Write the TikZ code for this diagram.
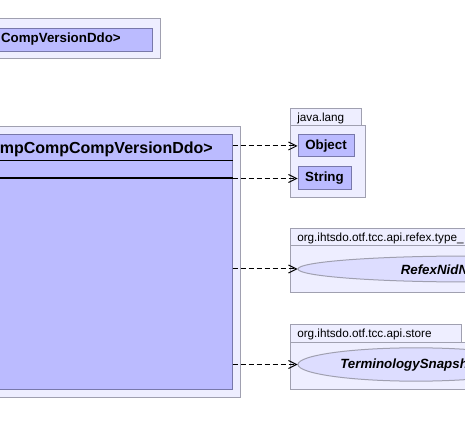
\documentclass[tikz,border=0pt]{standalone}
\usepackage{fontspec}
\setmainfont{Liberation Sans}
\usetikzlibrary{arrows.meta,fit,shapes.geometric}
\definecolor{pkgfill}{RGB}{238,238,255}
\definecolor{pkgline}{RGB}{160,160,176}
\definecolor{clsfill}{RGB}{187,187,255}
\definecolor{clsline}{RGB}{120,120,170}
\definecolor{ellfill}{RGB}{221,221,255}
\begin{document}
\begin{tikzpicture}[x=0.75pt,y=-0.75pt,
  pkg/.style={draw=pkgline,fill=pkgfill,line width=0.75pt,inner sep=0pt},
  cls/.style={draw=clsline,fill=clsfill,line width=0.75pt,inner sep=0pt},
  ell/.style={ellipse,draw=pkgline,fill=ellfill,line width=0.75pt,inner sep=0pt},
  dep/.style={draw=black,line width=0.75pt,dash pattern=on 3.75pt off 2.25pt,-{Straight Barb[length=6pt,width=6pt]}},
  lbl/.style={inner sep=0pt,anchor=base west,font=\fontsize{8.8}{10}\selectfont},
  btxt/.style={inner sep=0pt,font=\fontsize{10}{12}\selectfont\bfseries},
  itxt/.style={inner sep=0pt,anchor=base west,font=\fontsize{10}{12}\selectfont\bfseries\itshape}
]
\useasboundingbox (0,0) rectangle (465,435);
\clip (0,0) rectangle (465,435);

% top package
\node[pkg, fit={(-10,19) (160.5,59)}] (toppkg) {};
\node[cls, fit={(-10,28.5) (152.5,51.5)}] (topcls) {};
\node[btxt, anchor=base east] (toptitle) at (121,42.5) {CompVersionDdo>};

% main package and class
\node[pkg, fit={(-10,127) (240,397)}] (mainpkg) {};
\node[cls, fit={(-10,135) (232,389)}] (main) {};
\node[btxt, anchor=base east, font=\fontsize{12}{14}\selectfont\bfseries] (maintitle) at (213,154) {mpCompCompVersionDdo>};
\coordinate (sepA) at (0,160);
\coordinate (sepB) at (0,178);
\draw[line width=0.6pt] (main.west |- sepA) -- (main.east |- sepA);
\draw[line width=1pt] (main.west |- sepB) -- (main.east |- sepB);

% java.lang
\node[pkg, fit={(290,109) (361,126)}] (javatab) {};
\node[pkg, fit={(290,126) (365,198)}] (javapkg) {};
\node[lbl] (javalbl) at (297,121.5) {java.lang};
\node[cls, btxt, minimum width=42pt, minimum height=16.5pt] (obj) at (326,146) {Object};
\node[cls, btxt, minimum width=39.75pt, minimum height=17.25pt] (str) at (324.5,178.5) {String};

% refex package
\node[pkg, fit={(290,229) (480,246)}] (refextab) {};
\node[pkg, fit={(290,246) (480,293)}] (refexpkg) {};
\node[lbl] (refexlbl) at (297,241.5) {org.ihtsdo.otf.tcc.api.refex.type\_};
\node[ell, minimum width=258pt, minimum height=19.5pt] (refex) at (470,269) {};
\node[itxt] (refextxt) at (400.5,274) {RefexNidN};

% store package
\node[pkg, fit={(290,324) (461,342)}] (storetab) {};
\node[pkg, fit={(290,342) (480,389)}] (storepkg) {};
\node[lbl] (storelbl) at (297,337) {org.ihtsdo.otf.tcc.api.store};
\node[ell, minimum width=177pt, minimum height=25pt] (store) at (416,364.5) {};
\node[itxt] (storetxt) at (340,368.3) {TerminologySnapsh};

% dependencies
\draw[dep] (obj.west -| main.east) -- (obj.west);
\draw[dep] (str.west -| main.east) -- (str.west);
\draw[dep] (refex.west -| main.east) -- (refex.west);
\draw[dep] (store.west -| main.east) -- (store.west);
\end{tikzpicture}
\end{document}
